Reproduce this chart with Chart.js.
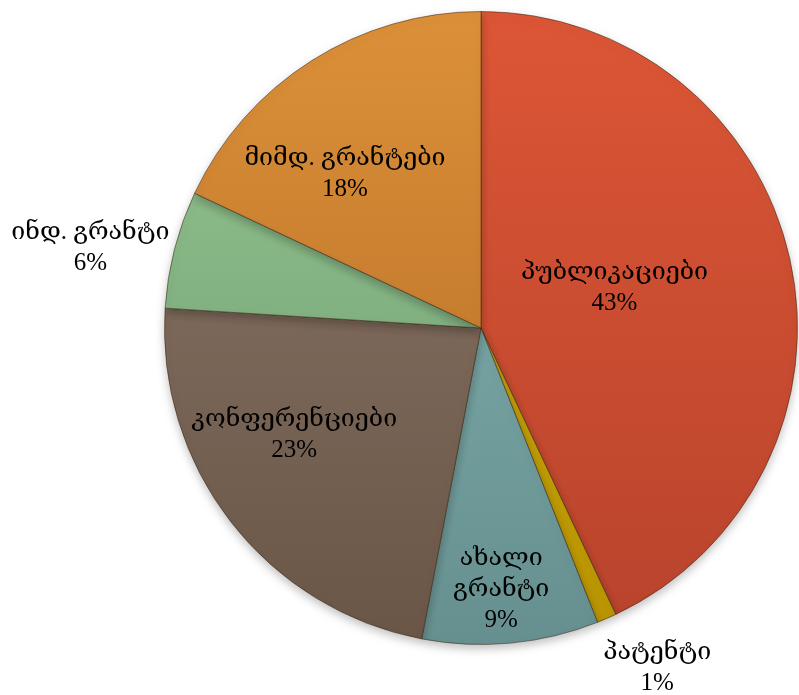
<!DOCTYPE html>
<html>
<head>
<meta charset="utf-8">
<script src="https://cdn.jsdelivr.net/npm/chart.js@4.4.1/dist/chart.umd.min.js"></script>
<style>
  html, body { margin: 0; padding: 0; background: #ffffff; }
  #wrap { width: 799px; height: 695px; position: relative; }
</style>
</head>
<body>
<div id="wrap"><canvas id="c" width="799" height="695"></canvas></div>
<script>
// ---- data ----
const categories = ["პუბლიკაციები", "პატენტი", "ახალი გრანტი", "კონფერენციები", "ინდ. გრანტი", "მიმდ. გრანტები"];
const labelLines = [["პუბლიკაციები"], ["პატენტი"], ["ახალი", "გრანტი"], ["კონფერენციები"], ["ინდ. გრანტი"], ["მიმდ. გრანტები"]];
const shares = [43, 1, 9, 23, 6, 18];
const percentLabels = ["43%", "1%", "9%", "23%", "6%", "18%"];

// ---- styles ----
const topColors    = ["#dc5636", "#d8b210", "#86b4b6", "#8c786a", "#96c891", "#dc9038"];
const bottomColors = ["#b8432c", "#b89400", "#66908f", "#6a5647", "#6c9870", "#b06a26"];
// label placement: radial factor (of outer radius) and angle shift (degrees)
const labelRadius = [0.44, 1.21, 0.83, 0.68, 1.26, 0.65];
const labelAngleShift = [-4, -4, 1, 8, -2.8, -9];

function sliceFill(ctx) {
  const chart = ctx.chart;
  const area = chart.chartArea;
  if (!area) return topColors[ctx.dataIndex];
  const g = chart.ctx.createLinearGradient(0, area.top, 0, area.bottom);
  g.addColorStop(0, topColors[ctx.dataIndex]);
  g.addColorStop(1, bottomColors[ctx.dataIndex]);
  return g;
}

const shadowPlugin = {
  id: 'shadow',
  beforeDatasetsDraw(chart) {
    const c = chart.ctx;
    c.save();
    c.shadowColor = 'rgba(0,0,0,0.25)';
    c.shadowBlur = 10;
    c.shadowOffsetY = 4;
  },
  afterDatasetsDraw(chart) {
    chart.ctx.restore();
  }
};

const labelPlugin = {
  id: 'sliceLabels',
  afterDraw(chart) {
    const c = chart.ctx;
    const meta = chart.getDatasetMeta(0);
    c.save();
    c.font = '25px "Liberation Serif", "DejaVu Serif", serif';
    c.fillStyle = '#000000';
    c.textAlign = 'center';
    c.textBaseline = 'middle';
    const lh = 31;
    meta.data.forEach((arc, i) => {
      const p = arc.getProps(['x', 'y', 'startAngle', 'endAngle', 'outerRadius'], true);
      const mid = (p.startAngle + p.endAngle) / 2 + labelAngleShift[i] * Math.PI / 180;
      const r = p.outerRadius * labelRadius[i];
      const cx = p.x + Math.cos(mid) * r;
      const cy = p.y + Math.sin(mid) * r;
      const lines = labelLines[i].concat([percentLabels[i]]);
      const y0 = cy - (lines.length - 1) * lh / 2;
      lines.forEach((t, k) => c.fillText(t, cx, y0 + k * lh));
    });
    c.restore();
  }
};

new Chart(document.getElementById('c'), {
  type: 'pie',
  data: {
    labels: categories,
    datasets: [{
      data: shares,
      backgroundColor: sliceFill,
      borderColor: 'rgba(60,40,20,0.55)',
      borderWidth: 1
    }]
  },
  options: {
    responsive: false,
    animation: false,
    layout: { padding: { left: 164, right: 1, top: 11, bottom: 50 } },
    plugins: {
      legend: { display: false },
      tooltip: { enabled: false }
    }
  },
  plugins: [shadowPlugin, labelPlugin]
});
</script>
</body>
</html>
